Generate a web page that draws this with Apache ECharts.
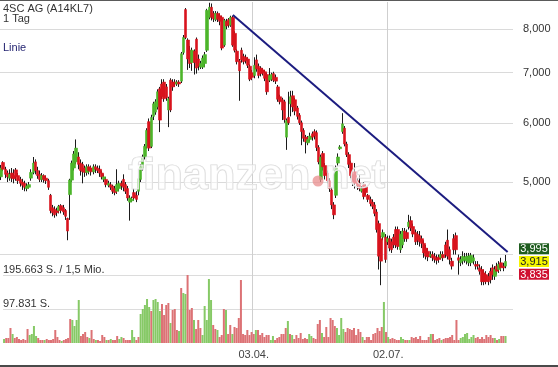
<!DOCTYPE html>
<html>
<head>
<meta charset="utf-8">
<script src="https://cdn.jsdelivr.net/npm/echarts@6/dist/echarts.min.js"></script>
<style>
  html, body { margin: 0; padding: 0; background: #fff; }
  #chart { width: 558px; height: 367px; }
</style>
</head>
<body>
<div id="chart"></div>
<script>
// 4SC AG daily candles (EUR), one entry per trading day
const opens = [
  5.08,5.31,5.20,5.14,5.06,5.14,5.10,5.19,5.10,5.04,
  5.00,4.98,4.90,4.92,5.06,5.15,5.32,5.18,5.12,5.04,
  5.10,5.06,5.02,4.80,4.62,4.60,4.58,4.58,4.65,4.62,
  4.58,4.47,4.81,5.03,5.22,5.32,5.40,5.30,5.28,5.22,
  5.15,5.24,5.22,5.16,5.24,5.22,5.20,5.14,5.04,5.04,
  4.95,4.96,4.94,4.90,4.86,4.90,4.98,5.04,4.96,4.90,
  4.70,4.72,4.84,4.80,4.86,5.04,5.22,5.40,5.58,6.02,
  5.58,6.12,6.20,6.30,6.66,6.76,6.80,6.70,6.24,6.84,
  6.80,6.80,6.76,6.80,6.82,7.45,8.50,7.74,7.50,7.22,
  7.48,7.76,7.30,7.12,7.12,7.20,7.50,8.30,8.56,8.40,
  8.24,8.40,8.34,8.30,7.62,8.20,8.24,8.10,8.30,7.90,
  7.48,7.26,7.50,7.36,7.34,7.30,7.14,7.00,6.94,7.28,
  7.14,7.10,7.06,7.02,6.96,6.84,6.86,6.98,6.90,6.70,
  6.50,6.44,6.40,5.74,6.10,6.36,6.52,6.44,6.28,6.14,
  6.00,5.86,5.74,5.64,5.70,5.80,5.84,5.82,5.56,5.04,
  5.46,5.26,5.14,5.02,4.88,4.66,4.80,5.30,5.54,5.84,
  5.90,5.62,5.44,5.30,5.12,5.16,5.02,4.98,4.86,4.96,
  4.92,4.80,4.74,4.70,4.66,4.56,4.40,4.20,4.22,4.22,
  4.16,4.20,4.16,4.22,4.32,4.32,4.06,4.12,4.30,4.28,
  4.36,4.44,4.36,4.28,4.26,4.24,4.20,4.14,4.08,4.04,
  3.98,4.00,3.98,3.96,3.97,3.96,4.00,4.12,4.18,4.06,
  3.92,4.20,4.24,3.96,3.90,3.92,3.93,3.92,3.90,3.90,
  3.92,3.88,3.88,3.84,3.82,3.78,3.76,3.74,3.80,3.84,
  3.74,3.86,3.82,3.90,3.86,3.86
];
const closes = [
  5.22,5.20,5.12,5.08,5.12,5.06,5.05,5.08,5.02,4.98,
  4.95,4.92,4.94,4.96,5.15,5.30,5.18,5.10,5.04,5.10,
  5.04,5.02,4.92,4.58,4.55,4.52,4.55,4.64,4.58,4.56,
  4.50,4.30,5.03,5.30,5.45,5.55,5.28,5.18,5.16,5.15,
  5.24,5.18,5.16,5.24,5.20,5.18,5.14,5.08,5.08,4.96,
  4.98,4.92,4.86,4.84,4.96,4.98,4.94,4.92,4.86,4.76,
  4.76,4.74,4.76,4.74,5.05,5.24,5.40,5.58,5.86,5.55,
  6.10,6.36,6.40,6.60,6.05,6.50,6.46,6.48,6.46,6.24,
  6.70,6.76,6.80,6.76,7.42,7.80,7.80,7.30,7.20,7.50,
  7.22,7.10,7.14,7.20,7.32,7.40,8.48,8.56,8.30,8.26,
  8.40,8.25,8.20,7.55,8.22,8.08,8.10,8.30,7.62,7.50,
  7.24,7.04,7.28,7.24,7.26,7.16,6.86,6.90,7.16,7.08,
  6.94,6.98,7.00,6.88,6.60,6.94,6.96,6.84,6.82,6.45,
  6.40,6.24,6.06,6.04,6.00,6.50,6.30,6.22,6.12,6.00,
  5.84,5.72,5.66,5.70,5.76,5.74,5.76,5.56,5.32,5.40,
  5.24,5.10,5.02,4.90,4.66,4.52,5.22,5.40,5.57,5.98,
  5.62,5.44,5.28,5.10,5.00,4.98,4.94,4.90,4.90,4.78,
  4.84,4.74,4.68,4.64,4.54,4.32,3.98,3.92,4.28,3.94,
  4.20,4.08,4.06,4.12,4.12,4.10,4.26,4.30,4.20,4.20,
  4.42,4.34,4.26,4.16,4.18,4.16,4.14,4.02,3.98,3.97,
  4.00,3.96,3.94,3.93,3.94,4.00,3.96,4.00,3.98,3.94,
  3.86,4.06,4.06,3.93,3.94,3.98,3.97,3.98,3.98,3.99,
  3.96,3.86,3.86,3.80,3.68,3.68,3.68,3.68,3.70,3.76,
  3.82,3.80,3.88,3.84,3.84,3.915
];
const lows = [
  5.03,5.17,5.06,5.00,5.02,5.00,4.98,5.02,4.97,4.93,
  4.88,4.86,4.86,4.90,5.02,5.12,5.12,5.05,5.00,5.00,
  4.99,4.97,4.88,4.54,4.50,4.48,4.50,4.54,4.54,4.52,
  4.45,4.18,4.45,5.00,5.18,5.28,5.20,5.10,4.98,5.08,
  5.10,5.12,5.10,5.12,5.14,5.14,5.08,5.04,5.00,4.92,
  4.92,4.88,4.82,4.80,4.82,4.86,4.88,4.86,4.82,4.72,
  4.44,4.70,4.72,4.70,4.80,5.00,5.18,5.36,5.54,5.50,
  5.55,6.05,6.15,6.25,5.83,6.45,6.40,6.42,5.92,6.20,
  6.62,6.70,6.72,6.70,6.78,7.40,7.76,7.06,7.10,7.04,
  6.96,6.98,7.05,7.08,7.08,7.12,7.46,8.25,8.22,8.18,
  8.20,8.18,8.10,7.50,7.58,8.00,8.04,8.06,7.58,7.45,
  7.18,6.42,7.22,7.18,7.20,7.10,6.82,6.84,6.88,7.02,
  6.88,6.92,6.94,6.82,6.54,6.80,6.82,6.80,6.76,6.40,
  6.35,6.05,6.00,5.52,5.96,6.12,6.20,6.14,6.06,5.96,
  5.60,5.66,5.46,5.60,5.66,5.68,5.70,5.50,5.28,5.00,
  5.18,5.04,4.98,4.85,4.60,4.46,4.76,5.26,5.52,5.80,
  5.58,5.40,5.22,5.06,4.94,4.90,4.88,4.86,4.84,4.74,
  4.80,4.70,4.64,4.60,4.50,4.28,3.82,3.64,4.18,3.90,
  4.12,4.04,4.02,4.08,4.08,4.06,4.02,4.08,4.16,4.16,
  4.32,4.30,4.22,4.12,4.12,4.10,4.08,3.96,3.94,3.92,
  3.96,3.92,3.90,3.88,3.90,3.94,3.92,3.96,3.94,3.88,
  3.82,4.00,4.00,3.76,3.86,3.88,3.90,3.88,3.86,3.86,
  3.88,3.82,3.82,3.76,3.64,3.64,3.65,3.64,3.66,3.70,
  3.70,3.76,3.78,3.80,3.80,3.835
];
const highs = [
  5.27,5.33,5.24,5.18,5.20,5.22,5.20,5.22,5.14,5.08,
  5.05,5.02,4.98,5.00,5.20,5.40,5.36,5.24,5.18,5.14,
  5.12,5.10,5.05,4.82,4.66,4.64,4.62,4.66,4.67,4.66,
  4.60,4.48,5.05,5.34,5.50,5.70,5.48,5.36,5.32,5.26,
  5.28,5.28,5.26,5.28,5.28,5.26,5.26,5.18,5.12,5.08,
  5.02,5.00,4.96,4.94,5.20,5.02,5.02,5.12,5.00,4.94,
  4.80,4.78,4.90,4.86,5.10,5.28,5.44,5.62,5.90,6.08,
  6.15,6.40,6.45,6.65,6.70,6.86,6.86,6.76,6.50,6.88,
  6.86,6.86,6.84,6.84,7.46,7.86,8.54,7.78,7.60,7.56,
  7.52,7.80,7.40,7.26,7.38,7.46,8.52,8.68,8.66,8.46,
  8.46,8.45,8.40,8.34,8.26,8.26,8.28,8.34,8.34,7.95,
  7.52,7.30,7.56,7.42,7.40,7.34,7.18,7.06,7.34,7.40,
  7.20,7.14,7.10,7.06,7.00,7.10,7.00,7.02,6.96,6.74,
  6.54,6.48,6.44,6.08,6.60,6.62,6.62,6.48,6.32,6.18,
  6.04,5.90,5.78,5.76,5.82,5.84,5.88,5.86,5.60,5.44,
  5.50,5.30,5.18,5.06,4.92,4.70,5.26,5.46,5.60,6.18,
  5.94,5.66,5.48,5.34,5.16,5.30,5.06,5.12,4.94,5.00,
  4.96,4.82,4.78,4.74,4.70,4.60,4.44,4.24,4.32,4.26,
  4.24,4.24,4.20,4.26,4.36,4.36,4.30,4.34,4.34,4.32,
  4.52,4.50,4.40,4.32,4.30,4.30,4.24,4.18,4.12,4.08,
  4.04,4.04,4.02,4.00,4.00,4.04,4.04,4.16,4.32,4.10,
  3.96,4.26,4.28,4.00,3.98,4.04,4.02,4.02,4.02,4.02,
  4.00,3.92,3.92,3.88,3.86,3.82,3.80,3.78,3.84,3.88,
  3.86,3.90,3.92,3.96,3.90,3.995
];
// traded shares per day
const volumes = [
  11500,14400,14400,43200,25900,14400,17300,11500,8600,11500,
  8600,40300,23000,25900,48900,20100,14400,8600,8600,8600,
  11500,8600,8600,11500,37400,17300,8600,5800,8600,11500,
  14400,69000,66200,48900,66200,123700,20100,25900,31600,17300,
  14400,37400,11500,8600,8600,5800,23000,17300,8600,8600,
  11500,8600,8600,20100,11500,17300,14400,8600,8600,8600,
  37400,17300,8600,17300,83400,97800,109300,126600,103600,92100,
  123700,126600,118000,92100,112200,80600,109300,115100,57500,94900,
  97800,37400,34500,158200,143900,141000,195663,94900,100700,66200,
  40300,66200,43200,23000,106400,66200,184100,123700,51800,40300,
  37400,17300,23000,97800,94900,25900,51800,25900,46000,43200,
  71900,181300,25900,23000,37400,23000,31600,25900,37400,37400,
  23000,28800,17300,23000,23000,8600,20100,8600,14400,17300,
  25900,25900,43200,63300,25900,23000,11500,23000,14400,28800,
  11500,14400,11500,25900,20100,14400,11500,54700,66200,28800,
  17300,46000,17300,71900,66200,48900,43200,23000,71900,40300,
  31600,43200,40300,37400,43200,23000,40300,31600,17300,8600,
  17300,17300,8600,25900,28800,43200,34500,46000,118000,31600,
  17300,11500,14400,11500,8600,8600,17300,11500,8600,8600,
  8600,17300,14400,17300,11500,20100,8600,8600,8600,17300,
  25900,25900,8600,11500,14400,8600,11500,14400,14400,17300,
  23000,8600,66200,8600,14400,17300,25900,28800,11500,17300,
  23000,14400,17300,11500,17300,11500,23000,17300,23000,14400,
  14400,8600,11500,20100,20100,20100
];
const priceGridValues = [4, 5, 6, 7, 8];
const labelledPrices = [5, 6, 7, 8];
const quarterDates = ['03.04.', '02.07.'];
// resistance line: [trading-day index, price] at both ends
const trendLine = [[108, 8.36], [236, 4.03]];
const turnoverText = '1,5 Mio.';

// trading calendar (Xetra), anchored on 03.04.2018
const holidays = new Set(['2017-12-25', '2017-12-26', '2018-01-01', '2018-03-30', '2018-04-02', '2018-05-01']);
const SLOTS = 239, ANCHOR_INDEX = 117, DAY = 86400000;
function isTradingDay(d) {
  const w = d.getUTCDay();
  return w !== 0 && w !== 6 && !holidays.has(d.toISOString().slice(0, 10));
}
const anchor = Date.UTC(2018, 3, 3);
const days = [];
for (let t = anchor - DAY; days.length < ANCHOR_INDEX; t -= DAY) {
  const d = new Date(t);
  if (isTradingDay(d)) days.unshift(d);
}
days.push(new Date(anchor));
for (let t = anchor + DAY; days.length < SLOTS; t += DAY) {
  const d = new Date(t);
  if (isTradingDay(d)) days.push(d);
}
const dates = days.map(d =>
  String(d.getUTCDate()).padStart(2, '0') + '.' + String(d.getUTCMonth() + 1).padStart(2, '0') + '.');

const UP = '#4cb52a', DOWN = '#d8131d';
const UP_VOL = '#86c966', DOWN_VOL = '#dc7275';
const FONT = '"Liberation Sans", Arial, sans-serif';

const ohlc = opens.map((o, i) => [o, closes[i], lows[i], highs[i]]);
const bodies = opens.map((o, i) => [o, closes[i], Math.min(o, closes[i]), Math.max(o, closes[i])]);
const volData = volumes.map((v, i) => ({
  value: v,
  itemStyle: { color: closes[i] >= opens[i] ? UP_VOL : DOWN_VOL }
}));
const maxVol = Math.max(...volumes);
const fmtShares = v => Math.floor(v).toString().replace(/\B(?=(\d{3})+(?!\d))/g, '.') + ' S.';
const fmtPrice = v => v.toFixed(3).replace('.', ',');

const option = {
  animation: false,
  backgroundColor: '#fff',
  textStyle: { fontFamily: FONT },
  grid: [
    { left: 0, top: 2, width: 513, height: 341 },
    { left: 0, top: 275, width: 513, height: 68 }
  ],
  xAxis: [
    { type: 'category', gridIndex: 0, data: dates, boundaryGap: true, show: false },
    {
      type: 'category', gridIndex: 1, data: dates, boundaryGap: true,
      axisLine: { show: false }, axisTick: { show: false }, splitLine: { show: false },
      axisLabel: {
        interval: (idx, val) => quarterDates.includes(val),
        color: '#444', fontSize: 11, margin: 6
      }
    }
  ],
  yAxis: [
    {
      type: 'log', logBase: 10, gridIndex: 0, min: 3.0469, max: 8.7002,
      axisLine: { show: false }, axisTick: { show: false },
      axisLabel: { show: false }, splitLine: { show: false }
    },
    {
      type: 'value', gridIndex: 1, min: 0, max: maxVol, interval: maxVol / 2,
      axisLine: { show: false }, axisTick: { show: false },
      splitLine: { show: true, lineStyle: { color: ['transparent', '#dcdcdc', '#dcdcdc'], width: 1 } },
      axisLabel: {
        inside: true, margin: 0, color: '#333', fontSize: 11,
        verticalAlign: 'bottom', showMaxLabel: true, showMinLabel: true,
        formatter: v => {
          if (v <= 0) return '';
          if (Math.abs(v - maxVol) < 1) return fmtShares(v) + ' / ' + turnoverText;
          return fmtShares(v);
        }
      }
    }
  ],
  series: [
    {
      name: 'Docht',
      type: 'candlestick',
      xAxisIndex: 0, yAxisIndex: 0,
      data: ohlc,
      barWidth: 1,
      z: 2,
      itemStyle: { color: '#1b1b1b', color0: '#1b1b1b', borderColor: '#1b1b1b', borderColor0: '#1b1b1b', borderWidth: 1 },
      markLine: {
        silent: true, symbol: 'none', z: 1, animation: false,
        lineStyle: { color: '#dadada', width: 1, type: 'solid' },
        label: {
          show: true, position: 'end', distance: 10, color: '#333', fontSize: 11,
          formatter: p => fmtPrice(p.value)
        },
        data: priceGridValues.map(v => ({
          yAxis: v, label: { show: labelledPrices.includes(v) }
        })).concat(quarterDates.map(d => ({
          xAxis: d, label: { show: false }, lineStyle: { color: '#cfcfcf' }
        })))
      }
    },
    {
      name: '4SC AG',
      type: 'candlestick',
      xAxisIndex: 0, yAxisIndex: 0,
      data: bodies,
      barWidth: 3,
      z: 3,
      itemStyle: { color: UP, color0: DOWN, borderColor: UP, borderColor0: DOWN, borderWidth: 0.6 },
      markLine: {
        silent: true, symbol: 'none', z: 6, animation: false,
        lineStyle: { color: '#1c1c80', width: 2, type: 'solid' },
        label: { show: false },
        data: [[{ coord: trendLine[0] }, { coord: trendLine[1] }]]
      }
    },
    {
      name: 'Volumen',
      type: 'bar',
      xAxisIndex: 1, yAxisIndex: 1,
      data: volData,
      barWidth: 2,
      z: 2
    }
  ]
};

const chart = echarts.init(document.getElementById('chart'));
chart.setOption(option);

// price tags for the last session, stacked around the closing price
const last = closes.length - 1;
const yClose = chart.convertToPixel({ yAxisIndex: 0 }, closes[last]);
const tags = [
  { v: highs[last], bg: '#1f5d1f', fg: '#fff', dy: -12.7 },
  { v: closes[last], bg: '#f6f600', fg: '#222', dy: 0 },
  { v: lows[last], bg: '#cf1131', fg: '#fff', dy: 12.7 }
];
const tagEls = [];
tags.forEach((t, k) => {
  const yc = yClose + t.dy;
  tagEls.push({
    type: 'rect', id: 'tagbox' + k, z: 20,
    shape: { x: 519, y: yc - 5.5, width: 30, height: 11 },
    style: { fill: t.bg }
  });
  tagEls.push({
    type: 'text', id: 'tagtxt' + k, z: 21,
    style: { text: fmtPrice(t.v), x: 534, y: yc + 0.5, fill: t.fg, fontSize: 11, fontFamily: FONT, textAlign: 'center', textVerticalAlign: 'middle' }
  });
});

chart.setOption({
  graphic: {
    elements: [
      { type: 'rect', id: 'topline', z: 30, shape: { x: 0, y: 0, width: 558, height: 1 }, style: { fill: '#5a5a5a' } },
      { type: 'rect', id: 'bottombar', z: 30, shape: { x: 0, y: 365, width: 558, height: 2 }, style: { fill: '#4a4a4a' } },
      { type: 'text', id: 'title', z: 30, style: { text: '4SC AG (A14KL7)', x: 3, y: 9, fill: '#333', fontSize: 11, fontFamily: FONT, textVerticalAlign: 'middle' } },
      { type: 'text', id: 'period', z: 30, style: { text: '1 Tag', x: 3, y: 19, fill: '#333', fontSize: 11, fontFamily: FONT, textVerticalAlign: 'middle' } },
      { type: 'text', id: 'mode', z: 30, style: { text: 'Linie', x: 3, y: 47.5, fill: '#1f1f6e', fontSize: 11, fontFamily: FONT, textVerticalAlign: 'middle' } },
      { type: 'text', id: 'wm1', z: 10, silent: true, style: { text: 'finanzen', x: 128, y: 177, fill: 'rgba(255,255,255,0.55)', stroke: '#d8d8d8', lineWidth: 1.2, fontSize: 45, fontWeight: 'bold', fontFamily: FONT, textVerticalAlign: 'middle' } },
      { type: 'circle', id: 'wmdot', z: 10, silent: true, shape: { cx: 318, cy: 181, r: 5.5 }, style: { fill: 'rgba(232,140,140,0.75)' } },
      { type: 'text', id: 'wm2', z: 10, silent: true, style: { text: 'net', x: 325, y: 177, fill: 'rgba(255,255,255,0.55)', stroke: '#d8d8d8', lineWidth: 1.2, fontSize: 40, fontWeight: 'bold', fontFamily: FONT, textVerticalAlign: 'middle' } }
    ].concat(tagEls)
  }
});
</script>
</body>
</html>
